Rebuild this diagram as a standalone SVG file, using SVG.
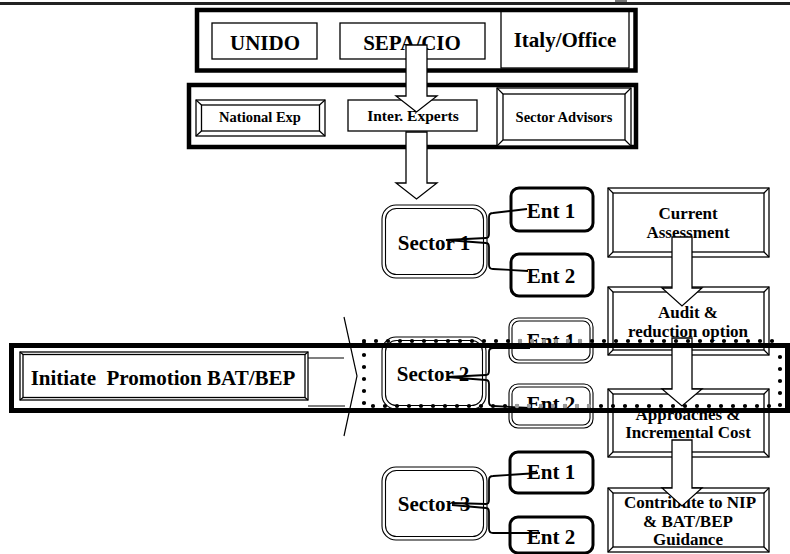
<svg xmlns="http://www.w3.org/2000/svg" width="790" height="554" viewBox="0 0 790 554">
<style>
text{font-family:"Liberation Serif","Times New Roman",serif;font-weight:bold;fill:#000;text-anchor:middle}
.f21{font-size:21px}
.f17{font-size:17px}
.f15{font-size:15.5px}
.f14{font-size:14.5px}
.thin{fill:#fff;stroke:#000;stroke-width:1.3}
.thick{fill:none;stroke:#000;stroke-width:4.5}
.ln{stroke:#000;stroke-width:1.2;fill:none}
.ent{fill:#fff;stroke:#000;stroke-width:3}
.dbl{fill:#fff;stroke:#000;stroke-width:1.1}
.dbl2{fill:none;stroke:#000;stroke-width:1.1}
.arrow{fill:#fff;stroke:#000;stroke-width:1.3}
.conn{fill:none;stroke:#000;stroke-width:1.8}
.dots{fill:none;stroke:#000;stroke-width:4.2;stroke-linecap:round;stroke-dasharray:0 12}
.gdots{fill:none;stroke:#9a9a9a;stroke-width:4.4;stroke-linecap:round;stroke-dasharray:0 12}
</style>
<rect x="0" y="2" width="790" height="3" fill="#222"/>
<rect x="615" y="0" width="12" height="2" fill="#777"/>

<g id="top-band">
<rect class="thin" x="212" y="23" width="105" height="36"/>
<text class="f21" x="265" y="50">UNIDO</text>
<rect class="thin" x="340" y="23" width="145" height="36"/>
<text class="f21" x="412" y="50">SEPA/CIO</text>
<rect class="thin" x="501" y="10" width="128" height="58"/>
<text class="f21" x="565" y="47">Italy/Office</text>
<rect class="thick" x="197" y="10" width="438.5" height="60.5"/>
</g>

<g id="experts-band">
<rect class="thick" x="189" y="85" width="447" height="62"/>
<g id="national-exp">
<rect class="thin" x="196" y="100" width="129" height="36"/>
<rect class="thin" x="201.5" y="105" width="118" height="26"/>
<path class="ln" d="M196,100L201.5,105M325,100L319.5,105M196,136L201.5,131M325,136L319.5,131"/>
<text class="f14" x="260" y="122">National Exp</text>
</g>
<g id="inter-experts">
<rect class="thin" x="348" y="100" width="129" height="31"/>
<text class="f15" x="413" y="121">Inter. Experts</text>
</g>
<g id="sector-advisors">
<rect class="thin" x="497" y="88" width="134" height="58"/>
<rect class="thin" x="503" y="94" width="122" height="46"/>
<path class="ln" d="M497,88L503,94M631,88L625,94M497,146L503,140M631,146L625,140"/>
<text class="f14" x="564" y="122">Sector Advisors</text>
</g>
</g>

<g id="right-column">
<g id="current-assessment">
<rect class="thin" x="608" y="188" width="161" height="69"/>
<rect class="thin" x="613" y="193" width="151" height="59"/>
<path class="ln" d="M608,188L613,193M769,188L764,193M608,257L613,252M769,257L764,252"/>
<text class="f17" x="688" y="219">Current</text>
<text class="f17" x="688" y="238">Assessment</text>
</g>
<g id="audit">
<rect class="thin" x="608" y="287" width="161" height="68"/>
<rect class="thin" x="613" y="292" width="151" height="58"/>
<path class="ln" d="M608,287L613,292M769,287L764,292M608,355L613,350M769,355L764,350"/>
<text class="f17" x="688" y="318">Audit &amp;</text>
<text class="f17" x="688" y="337">reduction option</text>
</g>
<g id="approaches">
<rect class="thin" x="608" y="389" width="161" height="68"/>
<rect class="thin" x="613" y="394" width="151" height="58"/>
<path class="ln" d="M608,389L613,394M769,389L764,394M608,457L613,452M769,457L764,452"/>
<text class="f17" x="688" y="420">Approaches &amp;</text>
<text class="f17" x="688" y="438">Incremental Cost</text>
</g>
<g id="contribute">
<rect class="thin" x="608" y="488" width="161" height="64"/>
<rect class="thin" x="613" y="493" width="151" height="54"/>
<path class="ln" d="M608,488L613,493M769,488L764,493M608,552L613,547M769,552L764,547"/>
<text class="f17" x="690" y="508">Contribute to NIP</text>
<text class="f17" x="688" y="527">&amp; BAT/BEP</text>
<text class="f17" x="688" y="545">Guidance</text>
</g>
</g>

<g id="sector1">
<rect class="dbl" x="382" y="205" width="105" height="73" rx="14"/>
<rect class="dbl2" x="385.5" y="208.5" width="98" height="66" rx="11"/>
<text class="f21" x="434" y="250">Sector 1</text>
</g>
<g id="s1-ent1"><rect class="ent" x="511" y="188" width="82" height="43" rx="8"/><text class="f21" x="551" y="218">Ent 1</text></g>
<g id="s1-ent2"><rect class="ent" x="511" y="254" width="82" height="42" rx="8"/><text class="f21" x="551" y="283">Ent 2</text></g>

<g id="sector2">
<rect class="dbl" x="382" y="337" width="104" height="72" rx="14"/>
<rect class="dbl2" x="385.5" y="340.5" width="97" height="65" rx="11"/>
<text class="f21" x="433" y="381">Sector 2</text>
</g>
<g id="s2-ent1"><rect class="dbl" x="509" y="318" width="84" height="45" rx="9"/><rect class="dbl2" x="512" y="321" width="78" height="39" rx="7"/><text class="f21" x="551" y="348">Ent 1</text></g>
<g id="s2-ent2"><rect class="dbl" x="509" y="384" width="84" height="44" rx="9"/><rect class="dbl2" x="512" y="387" width="78" height="38" rx="7"/><text class="f21" x="551" y="411">Ent 2</text></g>

<g id="sector3">
<rect class="dbl" x="382" y="467" width="105" height="73" rx="14"/>
<rect class="dbl2" x="385.5" y="470.5" width="98" height="66" rx="11"/>
<text class="f21" x="434" y="511">Sector 3</text>
</g>
<g id="s3-ent1"><rect class="ent" x="510" y="452" width="83" height="41" rx="8"/><text class="f21" x="551" y="479">Ent 1</text></g>
<g id="s3-ent2"><rect class="ent" x="510" y="517" width="83" height="36" rx="8"/><text class="f21" x="551" y="544">Ent 2</text></g>

<g id="connectors">
<path class="arrow" d="M406,45H427V96H437L416.5,112L396,96H406Z"/>
<path class="arrow" d="M406,132H427V183H437L416.5,199L396,183H406Z"/>
<path class="arrow" d="M672,237H692V288H702L682,306L662,288H672Z"/>
<path class="arrow" d="M672,338H692V389H702L682,406L662,389H672Z"/>
<path class="arrow" d="M672,440H692V488H702L682,506L662,488H672Z"/>
<path class="conn" d="M446,240L486,238Q489,238 489,234V217Q489,213 493,213L527,209"/>
<path class="conn" d="M446,240L486,243Q489,243 489,247V265Q489,269 493,269L528,271"/>
<path class="conn" d="M447,377L486,375Q489,375 489,371V352Q489,348 493,348L530,348"/>
<path class="conn" d="M447,377L486,380Q489,380 489,384V402Q489,406 493,406L530,408"/>
<path class="conn" d="M452,503L486,504Q489,504 489,500V480Q489,476 493,476L538,473"/>
<path class="conn" d="M452,505L486,508Q489,508 489,512V529Q489,533 493,533L540,533"/>
</g>

<g id="promotion-band">
<rect x="11.5" y="345.5" width="776" height="65" fill="none" stroke="#000" stroke-width="5"/>
<path class="ln" d="M308,358H344M308,406H345"/>
<polyline class="ln" points="344,317 357,376 344,436"/>
<path class="dots" d="M364,341H780V406H364Z"/>
<path class="gdots" d="M520,341H581"/>
<path class="gdots" d="M589,406H516"/>
<g id="initiate">
<rect class="thin" x="20" y="352" width="288" height="48"/>
<rect class="thin" x="23" y="354.5" width="282" height="43"/>
<path class="ln" d="M20,352L23,354.5M308,352L305,354.5M20,400L23,397.5M308,400L305,397.5"/>
<text class="f21" x="163" y="385" xml:space="preserve">Initiate  Promotion BAT/BEP</text>
</g>
</g>
</svg>
